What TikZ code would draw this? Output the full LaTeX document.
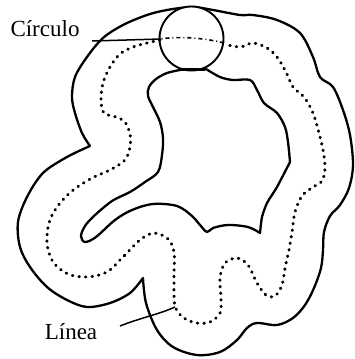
\documentclass[tikz,border=0pt]{standalone}
\usepackage{fontspec}
\setmainfont{Liberation Serif}
\begin{document}
\begin{tikzpicture}[x=1pt,y=-1pt,
  contour/.style={line width=2.3pt,line join=round,line cap=round},
  dots/.style={line width=3pt,line cap=round,dash pattern=on 0.6pt off 6pt},
  pointer/.style={line width=1.5pt},
  lbl/.style={font=\fontsize{23}{26}\selectfont,inner sep=0pt}]
\useasboundingbox (0,0) rectangle (355,359);
% outer contour
\draw[contour] plot[smooth,tension=0.55] coordinates {(90,146) (82,133) (75,113) (72,97) (75,77) (87,57) (103,38) (123,25) (147,15) (167,10) (192,7) (213,10) (240,15) (253,15) (277,20) (300,33) (313,57) (320,77) (333,87) (343,110) (350,135) (353,165) (349,188) (340,205) (330,216) (324,232) (323,250) (321,268) (314,288) (305,305) (293,318) (277,325) (257,323) (247,328) (237,340) (220,352) (197,355) (173,347) (157,330) (146,303) (143,278)}
  -- plot[smooth,tension=0.55] coordinates {(143,278) (130,293) (110,303) (87,307) (67,300) (47,287) (30,267) (20,247) (18,222) (27,197) (43,173) (67,157) (90,146)};
% inner contour
\draw[contour] plot[smooth,tension=0.55] coordinates {(206,69) (220,77) (233,80) (250,80) (257,90) (264,103) (277,113) (285,127) (288,142) (290,162)}
  -- plot[smooth,tension=0.4] coordinates {(290,162) (277,187) (267,203) (262,217) (260,233)}
  -- plot[smooth,tension=0.55] coordinates {(260,233) (248,227) (228,225) (213,228) (207,232) (200,225) (192,216) (177,206) (153,204) (132,210) (115,220) (96,237) (85,242) (81,236) (85,226) (94,216) (112,201) (130,192) (145,182) (158,172) (162,155) (163,138) (160,122) (153,107) (148,96) (149,87) (156,79) (167,73) (180,70)};
% circle
\node[draw,circle,line width=1.9pt,fill=white,minimum size=64pt,inner sep=0pt] (circ) at (191.5,38.5) {};
\draw[contour] (180,69.5) -- (205,69.5);
% dotted middle line
\draw[dots] plot[smooth,tension=0.55] coordinates {(160,40) (147,43) (133,47) (120,54) (110,67) (103,83) (101,100) (104,113) (116,117) (125,122) (130,134) (130,147) (125,160) (110,170) (92,178) (72,191) (57,207) (49,223) (47,243) (53,262) (68,274) (87,277) (107,272) (123,257) (140,240) (154,233) (168,239) (174,252) (174,278) (175,306) (184,318) (197,323) (210,322) (220,313) (221,298) (220,278) (225,263) (237,258) (248,265) (257,283) (266,295) (275,296) (282,285) (285,268) (289,250) (292,232) (295,212) (302,196) (313,187) (322,181) (325,168) (323,150) (319,133) (313,113) (304,97) (293,87) (286,72) (277,57) (267,48) (253,43) (240,47) (224,44)};
\draw[line width=1.6pt,dash pattern=on 4pt off 3pt on 1pt off 3pt] (224,43) .. controls (205,38) and (180,36) .. (160,39);
% labels and pointers
\node[lbl] (circulo) at (45,29) {Círculo};
\node[lbl] (linea) at (71,332) {Línea};
\coordinate (cstart) at (92,41);
\coordinate (cend) at (161,39);
\coordinate (lstart) at (120,326);
\coordinate (lend) at (175,307);
\draw[pointer] (cstart) -- (cend);
\draw[pointer] (lstart) .. controls (140,318) and (160,314) .. (lend);
\end{tikzpicture}
\end{document}
